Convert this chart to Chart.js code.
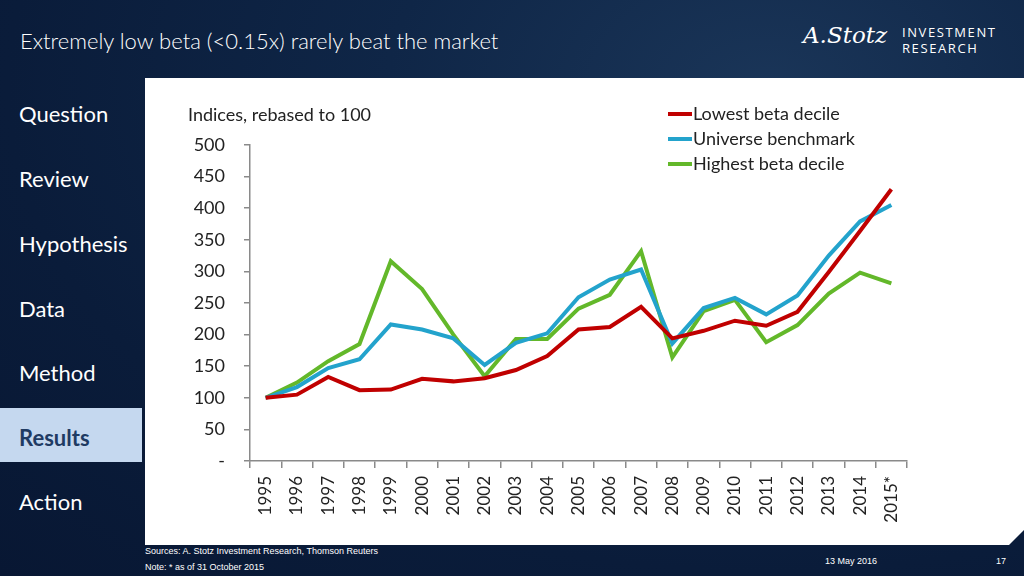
<!DOCTYPE html>
<html>
<head>
<meta charset="utf-8">
<script src="https://cdn.jsdelivr.net/npm/chart.js@4/dist/chart.umd.min.js"></script>
<style>
  html, body { margin:0; padding:0; }
  body { width:1024px; height:576px; overflow:hidden; position:relative;
    background: radial-gradient(ellipse at 75% 15%, #1a3558 0%, #0f2647 35%, #0a1c3a 70%, #081733 100%);
    font-family: Lato, "Open Sans", sans-serif; }
  .title { position:absolute; left:20px; top:27px; color:#fff; font-size:22px; font-weight:300; }
  .logo-script { position:absolute; left:803px; top:22px; color:#fff; font-family:"DejaVu Serif", serif; font-style:italic; font-size:23px; font-weight:300; }
  .logo-text { position:absolute; left:902px; top:24px; color:#fff; font-size:13px; line-height:16px; letter-spacing:1.6px; font-family:"Open Sans", sans-serif; }
  .nav { position:absolute; left:0; width:142px; }
  .nav div { position:absolute; left:19px; color:#fff; font-size:22px; white-space:nowrap; }
  .nav .active { left:0; width:142px; height:54px; background:#c5d8ef; }
  .nav .active span { position:absolute; left:19px; top:16px; color:#1f3b63; font-weight:700; }
  #panel { position:absolute; left:145px; top:78px; width:879px; height:467px; background:#fff;
    clip-path: polygon(0 0, 100% 0, 100% 452px, 864px 100%, 0 100%); }
  #chart { position:absolute; left:0; top:0; }
  .ytitle { position:absolute; left:43px; top:25px; font-size:18px; color:#222; white-space:nowrap; }
  .legend { position:absolute; left:523px; top:23px; }
  .legend div { position:relative; height:25px; font-size:18px; color:#222; white-space:nowrap; padding-left:25px; line-height:25px; }
  .legend div i { position:absolute; left:0; top:11px; width:24px; height:4px; }
  .foot { position:absolute; color:#fff; font-family:"Liberation Sans Narrow", "Liberation Sans", sans-serif; font-size:9px; white-space:nowrap; }
</style>
</head>
<body>
<div class="title">Extremely low beta (&lt;0.15x) rarely beat the market</div>
<div class="logo-script">A.Stotz</div>
<div class="logo-text">INVESTMENT<br>RESEARCH</div>

<div class="nav">
  <div style="top:100px">Question</div>
  <div style="top:165px">Review</div>
  <div style="top:230px">Hypothesis</div>
  <div style="top:295px">Data</div>
  <div style="top:359px">Method</div>
  <div class="active" style="top:408px"><span>Results</span></div>
  <div style="top:488px">Action</div>
</div>

<div id="panel">
  <canvas id="chart" width="879" height="467"></canvas>
  <div class="ytitle">Indices, rebased to 100</div>
  <div class="legend" id="legend"></div>
</div>

<div class="foot" style="left:145px; top:546px;">Sources: A. Stotz Investment Research, Thomson Reuters</div>
<div class="foot" style="left:145px; top:562px;">Note: * as of 31 October 2015</div>
<div class="foot" style="left:825px; top:556px;">13 May 2016</div>
<div class="foot" style="left:996px; top:556px;">17</div>

<script>
const categories = ["1995","1996","1997","1998","1999","2000","2001","2002","2003","2004","2005","2006","2007","2008","2009","2010","2011","2012","2013","2014","2015*"];
const seriesNames = ["Lowest beta decile","Universe benchmark","Highest beta decile"];
const seriesColors = ["#c00000","#23a3cc","#63b82a"];
const lowestBeta   = [100,105,133,112,113,130,126,131,144,166,208,212,244,194,206,222,214,236,299,364,430];
const universe     = [100,117,147,161,216,208,194,152,187,202,259,287,303,186,242,258,232,262,325,379,405];
const highestBeta  = [100,124,158,185,316,272,200,134,193,193,241,263,332,164,237,255,188,215,265,298,281];
const yTicks = [0,50,100,150,200,250,300,350,400,450,500];

const seriesValues = [lowestBeta, universe, highestBeta];

const leg = document.getElementById('legend');
seriesNames.forEach((n,i)=>{
  const d = document.createElement('div');
  d.innerHTML = '<i style="background:'+seriesColors[i]+'"></i>'+n;
  leg.appendChild(d);
});

const axisColor = '#8a8a8a';
new Chart(document.getElementById('chart'), {
  type: 'line',
  data: {
    labels: categories,
    datasets: seriesValues.map((v,i)=>({
      label: seriesNames[i],
      data: v,
      borderColor: seriesColors[i],
      backgroundColor: seriesColors[i],
      borderWidth: 4,
      pointRadius: 0,
      tension: 0,
      fill: false
    }))
  },
  options: {
    responsive: false,
    animation: false,
    devicePixelRatio: 1,
    layout: { padding: { left: 0, top: 67, right: 117, bottom: 0 } },
    plugins: { legend: { display: false }, tooltip: { enabled: false } },
    scales: {
      x: {
        offset: true,
        grid: { offset: true, drawOnChartArea: false, tickLength: 7, color: axisColor, lineWidth: 1.5 },
        border: { color: axisColor, width: 1.5 },
        ticks: { color: '#222', font: { family: 'Lato', size: 17 }, minRotation: 90, maxRotation: 90, padding: 8, autoSkip: false },
        afterFit: s => { s.height = 84; }
      },
      y: {
        min: 0, max: 500,
        afterBuildTicks: s => { s.ticks = yTicks.map(v=>({value:v})); },
        grid: { drawOnChartArea: false, tickLength: 6, color: axisColor, lineWidth: 1.5 },
        border: { color: axisColor, width: 1.5 },
        ticks: { color: '#222', font: { family: 'Lato', size: 18 }, padding: 19,
          callback: v => v === 0 ? '-' : v },
        afterFit: s => { s.width = 105; }
      }
    }
  }
});
</script>
</body>
</html>
